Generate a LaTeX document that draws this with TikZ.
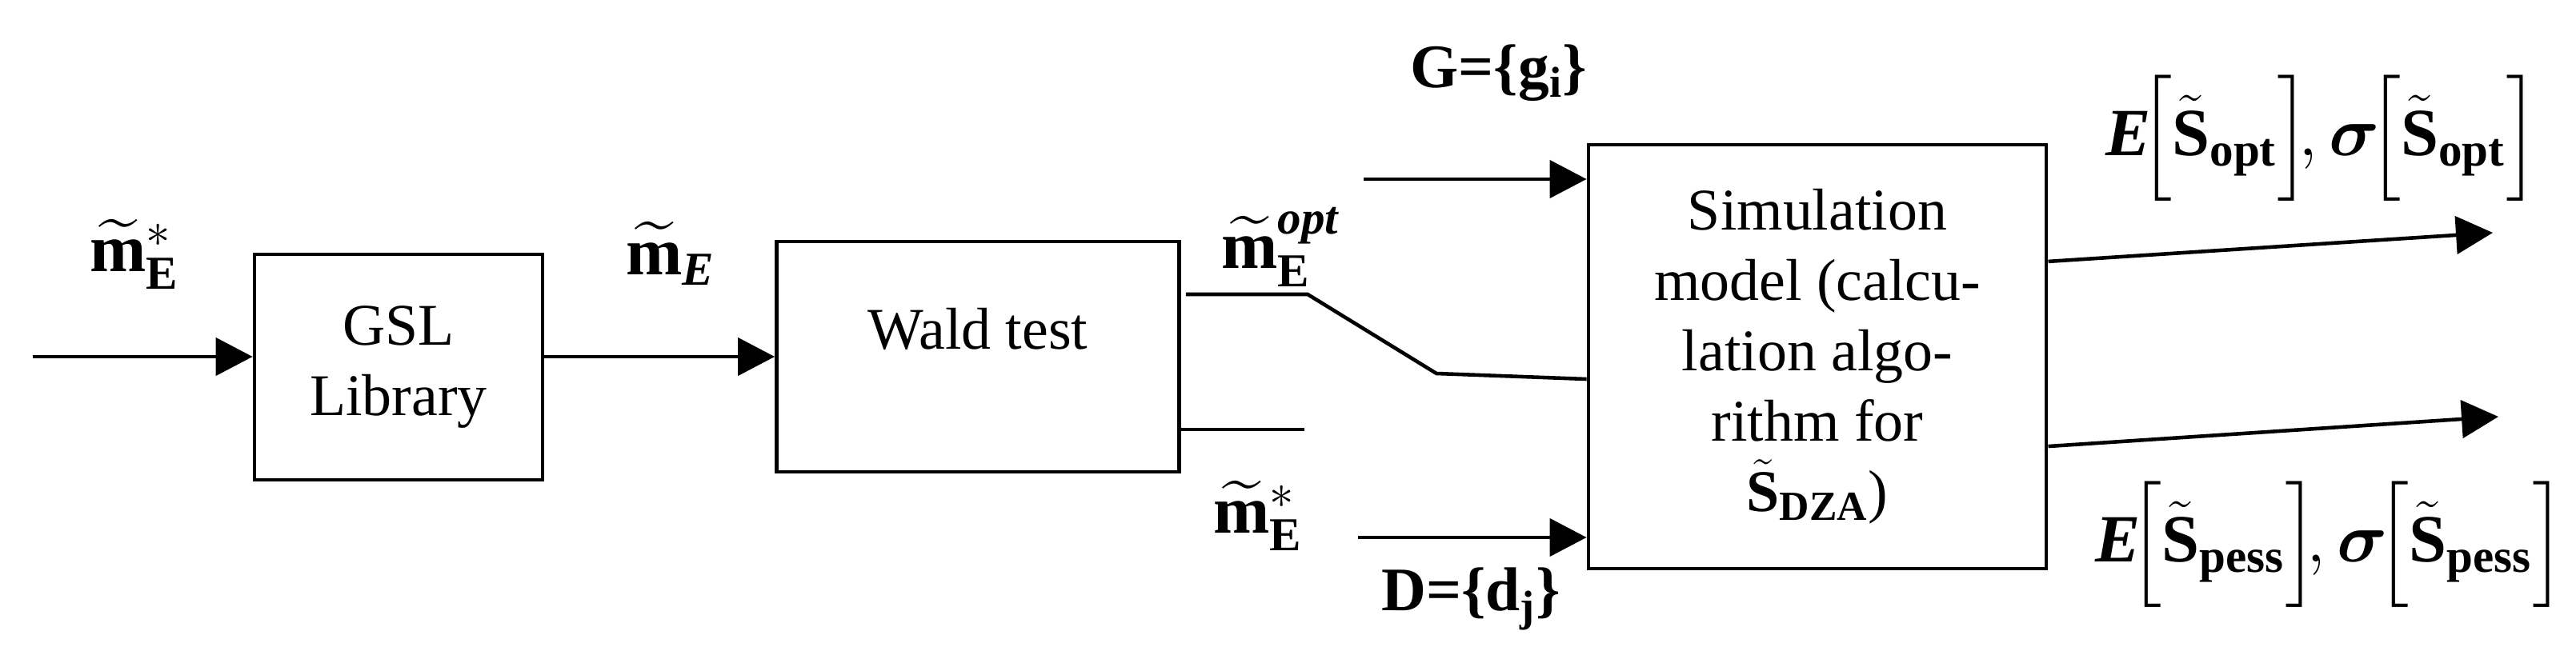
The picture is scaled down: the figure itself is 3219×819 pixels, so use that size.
\documentclass[tikz,border=0pt]{standalone}
\usepackage{amsmath}
\usepackage{bm}
\usepackage{fontspec}
\setmainfont{Liberation Serif}
\usetikzlibrary{arrows.meta}

\tikzset{
  blk/.style={draw, line width=1.3pt, inner sep=0pt, align=center, font=\fontsize{21}{25}\selectfont},
  arr/.style={line width=1.3pt, -{Triangle[length=0.46cm, width=0.47cm]}},
  ln/.style={line width=1.3pt},
  lab/.style={font=\fontsize{22}{26}\selectfont, inner sep=0pt},
  mlab/.style={font=\fontsize{24}{28}\selectfont, inner sep=0pt}
}

\begin{document}
\begin{tikzpicture}[x=0.01cm, y=-0.01cm]
\useasboundingbox (0,0) rectangle (3219,819);
\node[blk, minimum width=3.60cm, minimum height=2.82cm] (GSL) at (498,459) {GSL\\Library};
\node[blk, minimum width=5.03cm, minimum height=2.88cm] (W) at (1222,446) {};
\node[font=\fontsize{21}{25}\selectfont] (Wt) at (1222,411) {Wald test};
\node[blk, minimum width=5.72cm, minimum height=5.30cm] (S) at (2271,446) {Simulation\\model (calcu-\\lation algo-\\rithm for\\$\tilde{\mathbf{S}}_{\mathbf{DZA}}$)};
\coordinate (in) at (41,446);
\coordinate (G0) at (1704,224);
\coordinate (D0) at (1697,672);
\coordinate (K1) at (1634,368);
\coordinate (K2) at (1795,467);
\coordinate (L1) at (1630,537);
\coordinate (O1) at (3115,291);
\coordinate (O2) at (3122,521);
\draw [arr] (in) -- (in -| GSL.west);
\draw [arr] (GSL.east |- W.west) -- (W.west);
\draw [ln] ([xshift=0.06cm]W.east |- K1) -- (K1) -- (K2) -- ([yshift=-0.28cm]S.west);
\draw [ln] (W.east |- L1) -- (L1);
\draw [arr] (G0) -- (G0 -| S.west);
\draw [arr] (D0) -- (D0 -| S.west);
\draw [arr] ([yshift=1.19cm]S.east) -- (O1);
\draw [arr] ([yshift=-1.12cm]S.east) -- (O2);
\node[mlab] (m0) at (168,318) {$\widetilde{\mathbf{m}}^{*}_{\mathbf{E}}$};
\node[mlab] (m1) at (838,317) {$\widetilde{\mathbf{m}}_{\textbf{\textit{E}}}$};
\node[mlab] (m2) at (1601,309) {$\widetilde{\mathbf{m}}^{\textbf{\textit{opt}}}_{\mathbf{E}}$};
\node[mlab] (m3) at (1572,645) {$\widetilde{\mathbf{m}}^{*}_{\mathbf{E}}$};
\node[lab] (g) at (1873,91) {\textbf{G=\{g\textsubscript{i}\}}};
\node[lab] (d) at (1838,749) {\textbf{D=\{d\textsubscript{j}\}}};
\node[mlab] (e1) at (2902,173) {$\textbf{\textit{E}}\!\Bigl[\tilde{\mathbf{S}}_{\mathbf{opt}}\Bigr]\!,\bm{\sigma}\!\Bigl[\tilde{\mathbf{S}}_{\mathbf{opt}}\Bigr]$};
\node[mlab] (e2) at (2912,681) {$\textbf{\textit{E}}\!\Bigl[\tilde{\mathbf{S}}_{\mathbf{pess}}\Bigr]\!,\bm{\sigma}\!\Bigl[\tilde{\mathbf{S}}_{\mathbf{pess}}\Bigr]$};
\end{tikzpicture}
\end{document}
